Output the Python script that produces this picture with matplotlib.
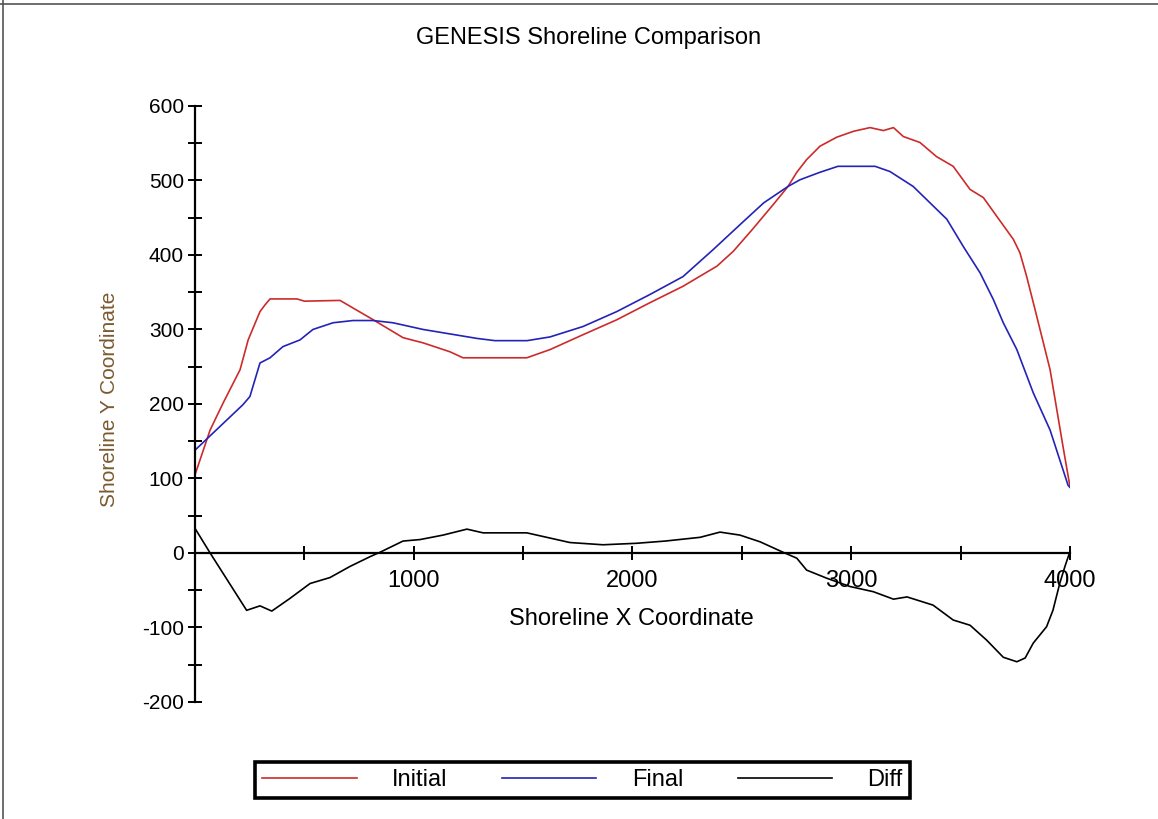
import matplotlib
matplotlib.use("Agg")
import matplotlib.pyplot as plt
from matplotlib.lines import Line2D
from matplotlib.ticker import MultipleLocator

plt.rcParams["font.family"] = ["Liberation Sans", "DejaVu Sans"]
plt.rcParams["axes.unicode_minus"] = False

# values
initial_x = [0, 69, 128, 206, 243, 297, 320, 343, 466, 500, 663, 809, 951, 1043,
             1166, 1225, 1517, 1623, 1774, 1928, 2080, 2231, 2386, 2461, 2550,
             2650, 2711, 2751, 2796, 2857, 2933, 3010, 3086, 3147, 3193, 3238,
             3314, 3390, 3466, 3543, 3604, 3665, 3741, 3771, 3802, 3840, 3909,
             3968, 4000]
initial_y = [105, 165, 201, 246, 286, 324, 333, 341, 341, 338, 339, 314, 289, 282,
             270, 262, 262, 273, 293, 313, 336, 358, 385, 405, 435,
             470, 492, 511, 528, 546, 558, 566, 571, 567, 571, 559,
             551, 532, 519, 488, 477, 452, 421, 403, 371, 327, 246,
             143, 89]

final_x = [0, 219, 251, 297, 343, 402, 480, 539, 631, 722, 814, 905, 1043, 1166,
           1289, 1371, 1518, 1623, 1774, 1928, 2080, 2231, 2368, 2500, 2600,
           2711, 2766, 2857, 2939, 3109, 3177, 3283, 3360, 3437, 3513, 3589,
           3650, 3695, 3757, 3832, 3909, 3991, 4000]
final_y = [138, 199, 210, 255, 262, 277, 286, 300, 309, 312, 312, 309, 300, 294,
           288, 285, 285, 290, 304, 324, 347, 371, 407, 443, 470,
           492, 501, 511, 519, 519, 512, 492, 470, 448, 411, 376,
           340, 309, 273, 215, 165, 91, 88]

diff_x = [0, 69, 236, 297, 351, 434, 526, 617, 709, 800, 846, 951, 1029, 1134,
          1243, 1317, 1517, 1714, 1865, 2019, 2150, 2309, 2400, 2491, 2583,
          2688, 2751, 2796, 2889, 2994, 3101, 3193, 3255, 3374, 3466, 3543,
          3619, 3695, 3757, 3795, 3832, 3893, 3922, 3954, 3977, 4000]
diff_y = [33, 0, -77, -71, -78, -61, -41, -33, -18, -5, 1, 16, 18, 24,
          32, 27, 27, 14, 11, 13, 16, 21, 28, 24, 15,
          1, -7, -23, -34, -45, -52, -62, -59, -70, -90, -97,
          -117, -140, -146, -141, -121, -99, -77, -40, -18, 2]

series_names = ["Initial", "Final", "Diff"]

fig = plt.figure(figsize=(11.58, 8.19), dpi=100)
ax = fig.add_axes([0.1684, 0.1429, 0.7556, 0.7277])

ax.plot(initial_x, initial_y, color="#cc2b2b", lw=1.2, label=series_names[0])
ax.plot(final_x, final_y, color="#2323b8", lw=1.2, label=series_names[1])
ax.plot(diff_x, diff_y, color="black", lw=1.2, label=series_names[2])

ax.set_xlim(0, 4000)
ax.set_ylim(-200, 600)

# axes cross at zero, like the old chart control
ax.spines["top"].set_visible(False)
ax.spines["right"].set_visible(False)
ax.spines["bottom"].set_position(("data", 0))
ax.spines["left"].set_linewidth(1.6)
ax.spines["bottom"].set_linewidth(1.6)

ax.xaxis.set_major_locator(MultipleLocator(1000))
ax.xaxis.set_minor_locator(MultipleLocator(500))
ax.yaxis.set_major_locator(MultipleLocator(100))
ax.yaxis.set_minor_locator(MultipleLocator(50))
ax.set_xticks([1000, 2000, 3000, 4000])
ax.tick_params(axis="both", which="both", direction="inout", length=10, width=1.4)
ax.tick_params(axis="x", which="major", pad=7, labelsize=17)
ax.tick_params(axis="y", which="major", pad=3, labelsize=15)

fig.suptitle("GENESIS Shoreline Comparison", fontsize=17, x=0.508,
             y=1 - 38 / 819, va="center")
ax.set_xlabel("Shoreline X Coordinate", fontsize=17)
ax.xaxis.set_label_coords(0.499, 0.139)
ax.xaxis.label.set_verticalalignment("center")
ax.set_ylabel("Shoreline Y Coordinate", fontsize=15, color="#7a5a30")
ax.yaxis.set_label_coords(-0.098, 0.507)
ax.yaxis.label.set_verticalalignment("center")

leg = fig.legend(loc="center", bbox_to_anchor=(0.503, 1 - 780 / 819), ncol=3,
                 fontsize=17, frameon=True, fancybox=False, framealpha=1,
                 handlelength=4.0, handletextpad=1.5, columnspacing=2.3,
                 borderpad=0.3, borderaxespad=0)
leg.get_frame().set_edgecolor("black")
leg.get_frame().set_linewidth(2.6)

# thin frame lines on the top and left edge of the picture
fig.add_artist(Line2D([0, 1], [1 - 4 / 819, 1 - 4 / 819], color="#555555", lw=1.2))
fig.add_artist(Line2D([3 / 1158, 3 / 1158], [0, 1], color="#555555", lw=1.2))

fig.savefig("out.png", dpi=100)
